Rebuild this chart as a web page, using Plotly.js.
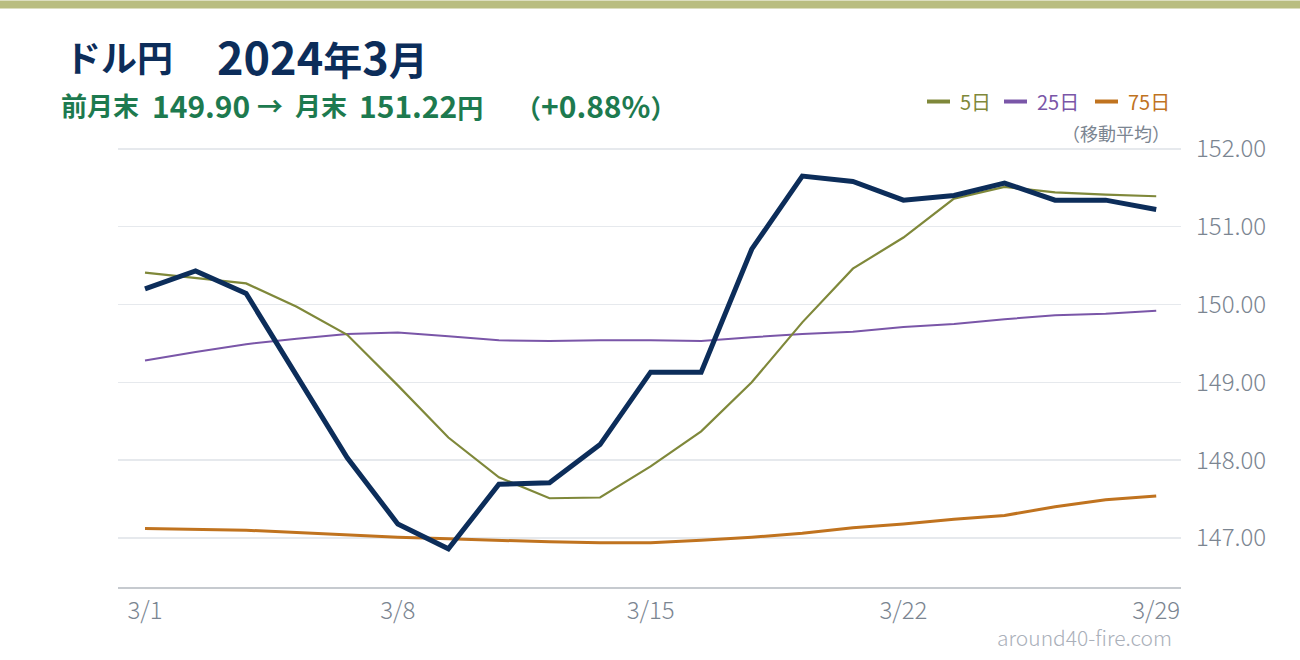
<!DOCTYPE html>
<html>
<head>
<meta charset="utf-8">
<script src="https://cdn.plot.ly/plotly-3.0.1.min.js"></script>
<style>html,body{margin:0;padding:0;background:#fff;}#chart{width:1300px;height:660px;}</style>
</head>
<body>
<div id="chart"></div>
<script>
// ---- data ----
const dates = ['3/1','3/4','3/5','3/6','3/7','3/8','3/11','3/12','3/13','3/14','3/15',
               '3/18','3/19','3/20','3/21','3/22','3/25','3/26','3/27','3/28','3/29'];
const price = [150.20,150.43,150.14,149.08,148.03,147.18,146.86,147.69,147.71,148.20,149.13,
               149.13,150.71,151.65,151.58,151.34,151.40,151.56,151.34,151.34,151.22];
const ma5   = [150.41,150.34,150.27,149.97,149.61,148.96,148.29,147.78,147.51,147.52,147.92,
               148.37,149.00,149.77,150.46,150.86,151.36,151.51,151.44,151.41,151.39];
const ma25  = [149.28,149.39,149.49,149.56,149.62,149.64,149.59,149.54,149.53,149.54,149.54,
               149.53,149.58,149.62,149.65,149.71,149.75,149.81,149.86,149.88,149.92];
const ma75  = [147.12,147.11,147.10,147.07,147.04,147.01,146.99,146.97,146.95,146.94,146.94,
               146.97,147.01,147.06,147.13,147.18,147.24,147.29,147.40,147.49,147.54];
const tickDates = ['3/1','3/8','3/15','3/22','3/29'];
const yTicks = [147,148,149,150,151,152];
const legendNames = ['5日','25日','75日'];

// ---- style ----
const FONT = '"Noto Sans CJK JP", "Noto Sans", sans-serif';
const C_PRICE = '#0c2d5a', C5 = '#7f883a', C25 = '#7a56a8', C75 = '#c0731f';
const C_TITLE = '#0c2d5a', C_SUB = '#1d7a4f', C_GRAY = '#7b8591';
const W = 1300, H = 660;
const L = 118, R = 1181, T = 140.5, B = 586.7;
const px = x => (x - L) / (R - L);
const py = y => (B - y) / (B - T);
const big = (s, sz) => '<span style="font-size:' + sz + 'px">' + s + '</span>';

const traces = [
  {x: dates, y: ma75, type:'scatter', mode:'lines', line:{color:C75, width:3}, hoverinfo:'skip'},
  {x: dates, y: ma25, type:'scatter', mode:'lines', line:{color:C25, width:2}, hoverinfo:'skip'},
  {x: dates, y: ma5,  type:'scatter', mode:'lines', line:{color:C5,  width:2.2}, hoverinfo:'skip'},
  {x: dates, y: price,type:'scatter', mode:'lines', line:{color:C_PRICE, width:5}, hoverinfo:'skip'}
];

const legendColors = [C5, C25, C75];
const legLine = [[927,950],[1004,1027],[1095,1118]];
const legText = [958,1035,1126];
const shapes = [
  {type:'rect', xref:'paper', yref:'paper', x0:px(0), x1:px(W), y0:py(0), y1:py(8),
   fillcolor:'#b9bd80', line:{width:0}, layer:'above'}
];
function txt(text, x, y, size, color, anchor, extra) {
  return Object.assign({xref:'paper', yref:'paper', x:px(x), y:py(y), xanchor:anchor||'left', yanchor:'middle',
    showarrow:false, text:text, font:{family:FONT, size:size, color:color}}, extra||{});
}
const annotations = [
  // title
  txt('<b>ドル円</b>', 63, 55, 36, C_TITLE),
  txt('<b>' + big('2024', 45) + '年' + big('3', 45) + '月</b>', 215, 55, 39, C_TITLE),
  // subtitle
  txt('<b>前月末</b>', 59, 104, 26, C_SUB),
  txt('<b>149.90</b>', 150, 104, 30, C_SUB),
  txt('<b>→</b>', 255, 104, 26, C_SUB),
  txt('<b>月末</b>', 293, 104, 26, C_SUB),
  txt('<b>' + big('151.22', 30) + '円</b>', 357, 104, 26, C_SUB),
  txt('<b>（' + big('+0.88%', 30) + '）</b>', 513, 104, 26, C_SUB),
  // legend note & watermark
  txt('（移動平均）', 1172, 132, 18, C_GRAY, 'right'),
  txt('around40-fire.com', 1174, 637, 21, '#aab0ba', 'right')
];
annotations[annotations.length-1].font.weight = 300;
legendNames.forEach((n,i) => {
  shapes.push({type:'line', xref:'paper', yref:'paper', x0:px(legLine[i][0]), x1:px(legLine[i][1]),
    y0:py(101), y1:py(101), line:{color:legendColors[i], width:4}});
  annotations.push(txt(n, legText[i], 101, 20, legendColors[i]));
});

const layout = {
  width: W, height: H,
  margin: {l:L, r:W-R, t:T, b:H-B, pad:0},
  paper_bgcolor:'#ffffff', plot_bgcolor:'#ffffff',
  showlegend:false,
  xaxis: {type:'category', categoryorder:'array', categoryarray:dates, range:[-0.534, 20.49],
          tickmode:'array', tickvals:tickDates, ticktext:tickDates, showgrid:false, zeroline:false,
          showline:true, linecolor:'#c6cacf', linewidth:2, ticks:'', ticklabelstandoff:1,
          tickfont:{family:FONT, size:24, color:C_GRAY, weight:300}},
  yaxis: {side:'right', range:[146.37, 152.1], tickmode:'array', tickvals:yTicks,
          ticktext:yTicks.map(v=>v.toFixed(2)), showgrid:true, gridcolor:'#e6e9ed', gridwidth:1.5,
          zeroline:false, showline:false, ticks:'', ticklabelstandoff:14,
          tickfont:{family:FONT, size:24, color:C_GRAY, weight:300}},
  shapes: shapes,
  annotations: annotations
};

Plotly.newPlot('chart', traces, layout, {staticPlot:true, displayModeBar:false});
</script>
</body>
</html>
